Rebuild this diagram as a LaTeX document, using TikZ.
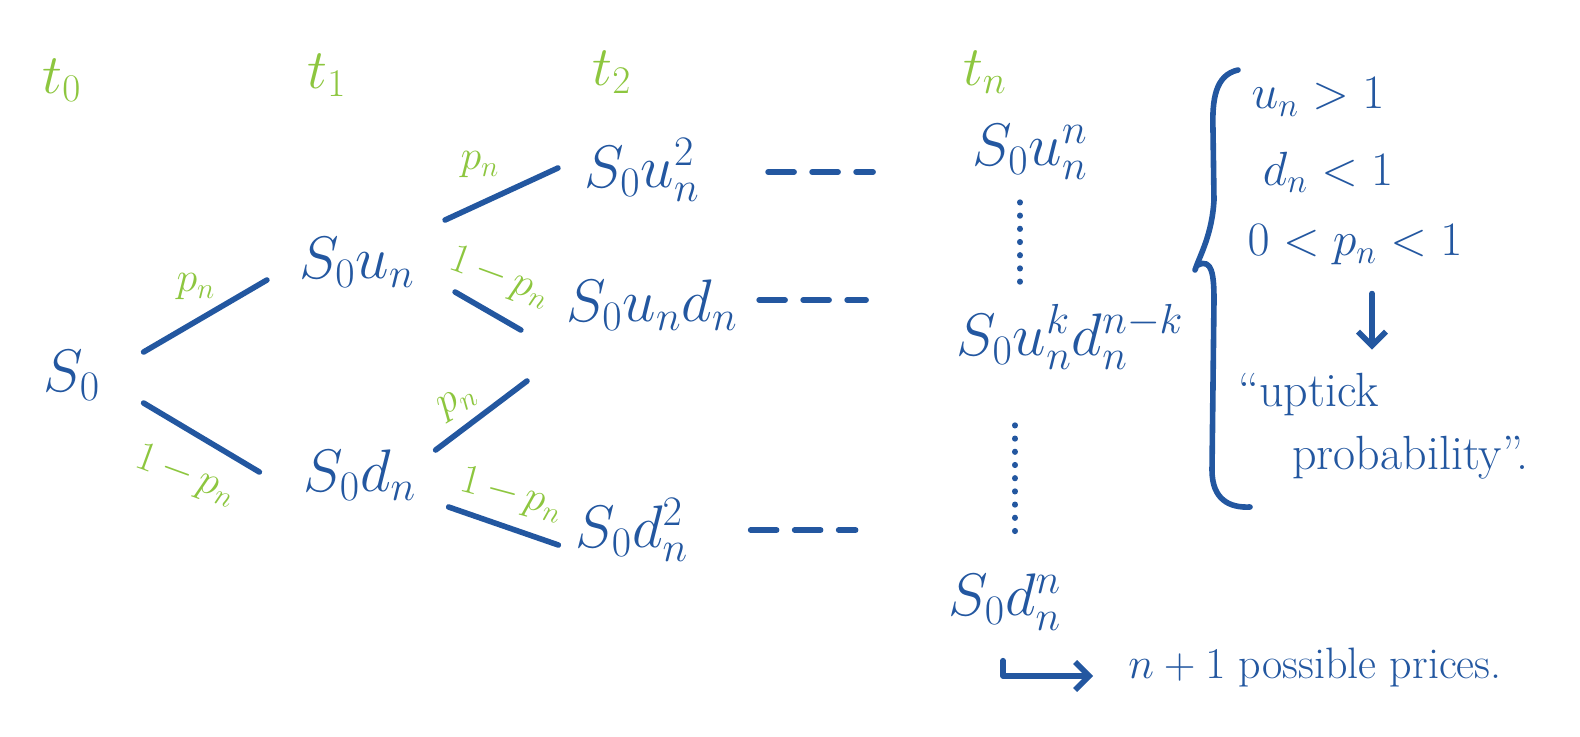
\documentclass[tikz,border=0pt]{standalone}
\usepackage{fix-cm}
\usetikzlibrary{arrows.meta}
\definecolor{inkblue}{HTML}{2357A0}
\definecolor{inkgreen}{HTML}{8DC63F}
\tikzset{
  ink/.style={inkblue, line width=2.8pt, line cap=round, line join=round},
  price/.style={inkblue, inner sep=0pt, font=\fontsize{30}{34}\selectfont},
  prob/.style={inkgreen, inner sep=0pt, font=\fontsize{21}{24}\selectfont},
  time/.style={inkgreen, inner sep=0pt, font=\fontsize{28}{32}\selectfont},
  note/.style={inkblue, inner sep=0pt, font=\fontsize{24}{28}\selectfont},
  gap/.style={ink, dash pattern=on 13pt off 9pt},
  dotcol/.style={ink, line width=3pt, dash pattern=on 0.1pt off 6.5pt},
  tip/.style={-{Straight Barb[length=7pt,width=14pt]}},
}
\begin{document}
\begin{tikzpicture}[x=0.5pt,y=-0.5pt]
\useasboundingbox (0,0) rectangle (1580,736);
% time steps
\node[time] (t0) at (62,80) {$t_0$};
\node[time] (t1) at (327,75) {$t_1$};
\node[time] (t2) at (612,72) {$t_2$};
\node[time] (tn) at (985,72) {$t_n$};
% prices
\node[price] (s0) at (72,375) {$S_0$};
\node[price] (su) at (357,262) {$S_0u_n$};
\node[price] (sd) at (360,475) {$S_0d_n$};
\node[price] (suu) at (642,170) {$S_0u_n^2$};
\node[price] (sud) at (652,305) {$S_0u_nd_n$};
\node[price] (sdd) at (632,530) {$S_0d_n^2$};
\node[price] (snu) at (1030,152) {$S_0u_n^n$};
\node[price] (snk) at (1070,337) {$S_0u_n^kd_n^{n-k}$};
\node[price] (sdn) at (1005,602) {$S_0d_n^n$};
\coordinate (open) at (527,381);
% branches
\draw[ink] ([shift={(43,-23)}]s0.east) -- ([shift={(-32,18)}]su.west);
\draw[ink] ([shift={(43,28)}]s0.east) -- ([shift={(-44,-3)}]sd.west);
\draw[ink] ([shift={(30,-42)}]su.east) -- ([shift={(-26,-2)}]suu.west);
\draw[ink] ([shift={(40,30)}]su.east) -- ([shift={(-45,25)}]sud.west);
\draw[ink] ([shift={(19,-25)}]sd.east) -- (open);
\draw[ink] ([shift={(32,32)}]sd.east) -- ([shift={(-17,15)}]sdd.west);
\node[prob] (l1) at (196,287) {$p_n$};
\node[prob, rotate=-20] (l2) at (186,476) {$1\,{-}\,p_n$};
\node[prob] (l3) at (480,165) {$p_n$};
\node[prob, rotate=-20] (l4) at (500,278) {$1\,{-}\,p_n$};
\node[prob, rotate=30] (l5) at (458,402) {$p_n$};
\node[prob, rotate=-15] (l6) at (512,495) {$1\,{-}\,p_n$};
% ... towards t_n
\draw[gap] ([shift={(68,2)}]suu.east) -- ++(105,0);
\draw[gap] ([shift={(21,-5)}]sud.east) -- ++(107,0);
\draw[gap] ([shift={(62,0)}]sdd.east) -- ++(105,0);
\draw[dotcol] ([shift={(-10,22)}]snu.south) -- ++(0,82);
\draw[dotcol] ([shift={(-55,55)}]snk.south) -- ++(0,108);
% conditions
\draw[ink] (1238,70) .. controls (1215,75) and (1212,100) .. (1213,130)
  -- (1214,200) .. controls (1212,235) and (1200,255) .. (1195,270);
\draw[ink] (1198,265) .. controls (1212,258) and (1214,275) .. (1214,300)
  -- (1212,470) .. controls (1212,500) and (1230,508) .. (1250,507);
\node[note] (c1) at (1318,97) {$u_n>1$};
\node[note] (c2) at (1328,172) {$d_n<1$};
\node[note] (c3) at (1355,245) {$0<p_n<1$};
\node[note, anchor=west] (up1) at (1238,395) {``uptick};
\node[note, anchor=west] (up2) at (1292,458) {probability''.};
\draw[ink, tip] ([shift={(17,28)}]c3.south) -- ++(0,56);
% count
\node[note, font=\fontsize{22}{26}\selectfont] (np) at (1315,668) {$n+1$ possible prices.};
\draw[ink, tip] ([shift={(-2,30)}]sdn.south) |- ([shift={(-35,8)}]np.west);
\end{tikzpicture}
\end{document}
